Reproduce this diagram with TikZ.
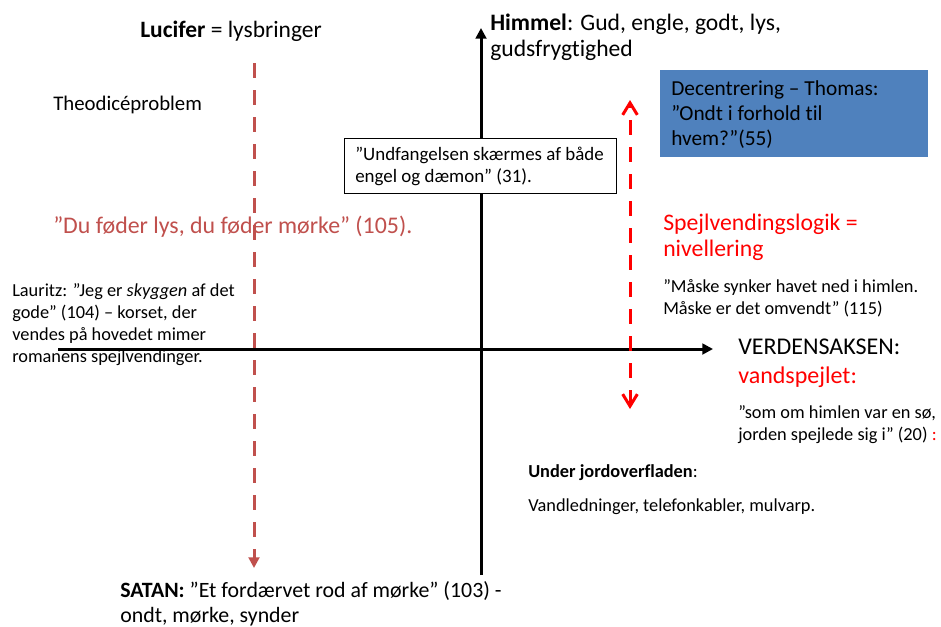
\documentclass[tikz,border=0pt]{standalone}
\usepackage{fontspec}
\setmainfont{Carlito}[Ligatures=NoCommon, RawFeature={-calt}]
\usetikzlibrary{arrows.meta}
\definecolor{brickred}{HTML}{C0504D}
\definecolor{boxblue}{HTML}{4F81BD}
\newcommand{\stack}[1]{\begin{tabular}[t]{@{}l@{}}#1\end{tabular}}
\tikzset{
  txt/.style={anchor=base west, inner sep=0pt, text=black},
  small/.style={font=\fontsize{13.75pt}{16.6pt}\selectfont},
  axis/.style={line width=2.25pt, -{Triangle[width=8pt,length=8pt]}},
  mirror/.style={line width=2.25pt, brickred, dash pattern=on 11.25pt off 9pt,
    -{Triangle[width=8pt,length=8pt]}},
  level/.style={line width=2.25pt, red, dash pattern=on 11.25pt off 9pt,
    {Straight Barb[width=11pt,length=9pt,line width=2.25pt]}-{Straight Barb[width=11pt,length=9pt,line width=2.25pt]}},
}
\begin{document}
\begin{tikzpicture}[x=0.75pt,y=-0.75pt]
\useasboundingbox[fill=white] (0,0) rectangle (941,626);

% axis end points
\coordinate (vbot) at (481,575);
\coordinate (vtop) at (481,28);
\coordinate (hleft) at (58,349);
\coordinate (hright) at (713,349);
\coordinate (lucA) at (254,63);
\coordinate (lucB) at (254,568);
\coordinate (spA) at (630,100);
\coordinate (spB) at (630,409);

% texts of the left half
\node[txt, font=\fontsize{17.6pt}{20pt}\selectfont] (lucifer) at (140,37) {\textbf{Lucifer} = lysbringer};
\node[txt, font=\fontsize{15.6pt}{18pt}\selectfont] (theo) at (53,110) {Theodicéproblem};
\node[txt, font=\fontsize{17.9pt}{21pt}\selectfont, text=brickred] (foder) at (53,233)
  {”Du føder lys, du føder mørke” (105).};
\node[txt, small] (lauritz) at (12,296)
  {\stack{Lauritz: ”Jeg er \textit{skyggen} af det\\ gode” (104) – korset, der\\ vendes på hovedet mimer\\ romanens spejlvendinger.}};
\node[txt, font=\fontsize{16.4pt}{18.8pt}\selectfont] (satan) at (120,597)
  {\stack{\textbf{SATAN:} ”Et fordærvet rod af mørke” (103) -\\ ondt, mørke, synder}};

% axes
\draw[axis] (vbot) -- (vtop);
\draw[axis] (hleft) -- (hright);

% quote box on the vertical axis
\node[draw=black, line width=0.8pt, fill=white, anchor=north west, minimum width=204pt,
  minimum height=41pt, inner sep=0pt] (quotebox) at (344,138) {};
\node[txt, font=\fontsize{14.2pt}{16.6pt}\selectfont] (quote) at (355,160)
  {\stack{”Undfangelsen skærmes af både\\ engel og dæmon” (31).}};

% right half
\node[txt, font=\fontsize{17.7pt}{20pt}\selectfont] (himmel) at (490,30)
  {\stack{\textbf{Himmel}: Gud, engle, godt, lys,\\ gudsfrygtighed}};
\node[fill=boxblue, anchor=north west, minimum width=201pt, minimum height=65pt,
  inner sep=0pt] (decbox) at (660,70) {};
\node[txt, font=\fontsize{16pt}{19pt}\selectfont] (dec) at (671,95)
  {\stack{Decentrering – Thomas:\\ ”Ondt i forhold til\\ hvem?”(55)}};
\node[txt, font=\fontsize{17.8pt}{20pt}\selectfont, text=red] (spejl) at (663,230)
  {\stack{Spejlvendingslogik =\\ nivellering}};
\node[txt, small] (maaske) at (663,292)
  {\stack{”Måske synker havet ned i himlen.\\ Måske er det omvendt” (115)}};
\node[txt, font=\fontsize{18pt}{22pt}\selectfont] (verden) at (738,354)
  {\stack{VERDENSAKSEN:\\ \textcolor{red}{vandspejlet:}}};
\node[txt, small] (somom) at (738,418)
  {\stack{”som om himlen var en sø,\\ jorden spejlede sig i” (20) \textcolor{red}{:}}};
\node[txt, small] (under) at (528,477) {\textbf{Under jordoverfladen}:};
\node[txt, small] (ledning) at (528,511) {Vandledninger, telefonkabler, mulvarp.};

% dashed arrows
\draw[mirror] (lucA) -- (lucB);
\draw[level] (spB) -- (spA);
\end{tikzpicture}
\end{document}
